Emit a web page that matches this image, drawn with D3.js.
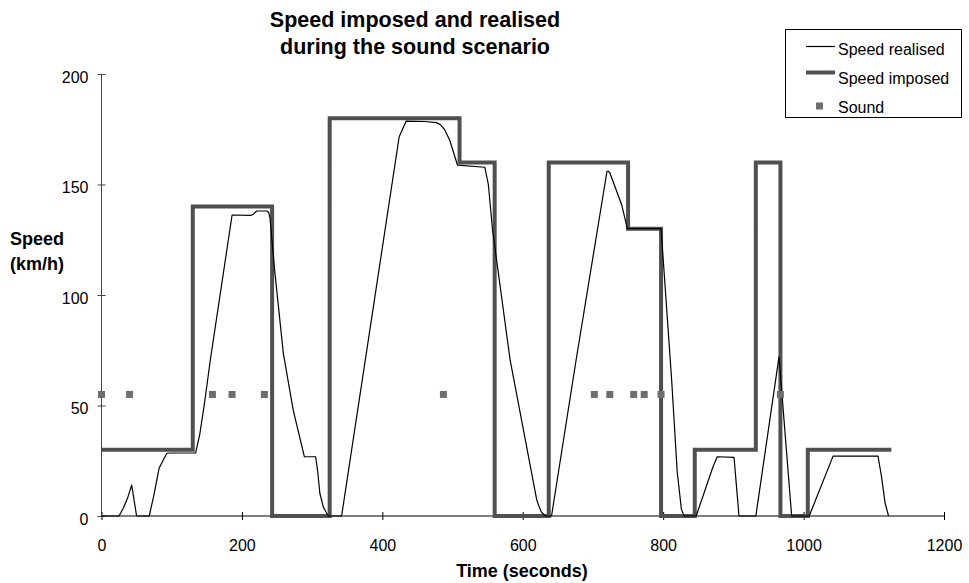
<!DOCTYPE html>
<html>
<head>
<meta charset="utf-8">
<script src="https://cdn.jsdelivr.net/npm/d3@7"></script>
<style>
  html, body { margin: 0; padding: 0; background: #fff; }
  svg { display: block; font-family: "Liberation Sans", Arial, sans-serif; }
</style>
</head>
<body>
<svg id="chart" width="969" height="583"></svg>
<script>
// ---- data ----
const realisedTime  = [0, 25, 31, 37, 43, 50, 68, 75, 82, 93, 100, 134, 140, 147, 155, 186, 212, 216, 221, 235, 238, 240, 247, 259, 273, 289, 305, 308, 311, 316, 323, 342, 424, 434, 460, 477, 483, 489, 496, 507, 546, 551, 557, 582, 620, 626, 632, 641, 676, 720, 722, 724, 741, 749, 797, 812, 820, 826, 830, 847, 871, 877, 901, 904, 908, 932, 965, 983, 1008, 1042, 1106, 1111, 1116, 1121];
const realisedSpeed = [0, 0, 3.5, 8, 14, 0, 0, 10, 21.6, 28.4, 28.5, 28.5, 37, 51.7, 70.6, 136.2, 136, 136.5, 138, 138, 137.5, 134.8, 110, 73.6, 48, 26.8, 26.8, 20, 10.3, 4, 0, 0, 171.6, 178.7, 178.5, 178, 177, 174.7, 170, 158.8, 157.8, 150, 129.4, 70.6, 7.2, 2, 0, 0, 70.6, 156, 156, 155.3, 140.7, 130, 130, 62, 20, 3, 0, 0, 22.3, 26.8, 26.5, 15, 0, 0, 72, 0, 0, 27.1, 27.1, 17.8, 6, 0];

const imposedTime  = [0, 130, 243, 325, 510, 560, 637, 750, 797, 845, 932, 967, 1006, 1125];
const imposedSpeed = [30, 140, 0, 180, 160, 0, 160, 130, 0, 30, 160, 0, 30, 30];

const soundTime  = [0, 40, 158, 186, 232, 487, 702, 724, 758, 773, 797, 967];
const soundSpeed = [55, 55, 55, 55, 55, 55, 55, 55, 55, 55, 55, 55];

const xTicks = [0, 200, 400, 600, 800, 1000, 1200];
const yTicks = [0, 50, 100, 150, 200];

const titleLines = ["Speed imposed and realised", "during the sound scenario"];
const xLabel = "Time (seconds)";
const yLabelLines = ["Speed", "(km/h)"];
const legendLabels = ["Speed realised", "Speed imposed", "Sound"];

// ---- chart ----
const svg = d3.select("#chart");
const x = d3.scaleLinear().domain([0, 1200]).range([101.5, 944]);
const y = d3.scaleLinear().domain([0, 200]).range([516, 74]);

const imposedColor = "#505050";
const soundColor = "#6e6e6e";

// title
svg.append("text")
  .attr("x", 415).attr("y", 27)
  .attr("text-anchor", "middle")
  .attr("font-size", 21.5).attr("font-weight", "bold")
  .text(titleLines[0]);
svg.append("text")
  .attr("x", 415).attr("y", 54)
  .attr("text-anchor", "middle")
  .attr("font-size", 21.5).attr("font-weight", "bold")
  .text(titleLines[1]);

// axes
const xAxis = svg.append("g")
  .attr("transform", `translate(0,${y(0)})`)
  .call(d3.axisBottom(x).tickValues(xTicks).tickSize(8).tickFormat(d3.format("d")));
xAxis.select(".domain").attr("stroke", "#000").attr("d", `M${x(0)},0H${x(1200)}`);
xAxis.selectAll(".tick line").attr("y1", -4).attr("y2", 4).attr("stroke", "#000");
xAxis.selectAll(".tick text")
  .attr("y", 0).attr("dy", null)
  .attr("transform", "translate(0,35)")
  .attr("font-size", 16).attr("fill", "#000")
  .attr("font-family", "Liberation Sans, Arial, sans-serif");

const yAxis = svg.append("g")
  .attr("transform", `translate(${x(0)},0)`)
  .call(d3.axisLeft(y).tickValues(yTicks).tickSize(8).tickFormat(d3.format("d")));
yAxis.select(".domain").attr("stroke", "#444").attr("d", `M0,${y(0)}V${y(200)}`);
yAxis.selectAll(".tick line").attr("x1", -4).attr("x2", 4).attr("stroke", "#444");
yAxis.selectAll(".tick text")
  .attr("x", -13).attr("dy", "0.5em")
  .attr("font-size", 16).attr("fill", "#000")
  .attr("font-family", "Liberation Sans, Arial, sans-serif");

// axis labels
svg.append("text")
  .attr("x", 522).attr("y", 577)
  .attr("text-anchor", "middle")
  .attr("font-size", 18).attr("font-weight", "bold")
  .text(xLabel);
svg.append("text")
  .attr("x", 10).attr("y", 245)
  .attr("font-size", 18).attr("font-weight", "bold")
  .text(yLabelLines[0]);
svg.append("text")
  .attr("x", 10).attr("y", 270)
  .attr("font-size", 18).attr("font-weight", "bold")
  .text(yLabelLines[1]);

// imposed (step)
const imposedData = imposedTime.map((t, i) => [t, imposedSpeed[i]]);
svg.append("path")
  .datum(imposedData)
  .attr("fill", "none")
  .attr("stroke", imposedColor)
  .attr("stroke-width", 4)
  .attr("stroke-linejoin", "miter")
  .attr("d", d3.line().x(d => x(d[0])).y(d => y(d[1])).curve(d3.curveStepAfter));

// realised
const realisedData = realisedTime.map((t, i) => [t, realisedSpeed[i]]);
svg.append("path")
  .datum(realisedData)
  .attr("fill", "none")
  .attr("stroke", "#000")
  .attr("stroke-width", 1.2)
  .attr("stroke-linejoin", "round")
  .attr("d", d3.line().x(d => x(d[0])).y(d => y(d[1])));

// sound
const soundData = soundTime.map((t, i) => [t, soundSpeed[i]]);
svg.append("g").selectAll("rect")
  .data(soundData)
  .join("rect")
  .attr("x", d => x(d[0]) - 3.5)
  .attr("y", d => y(d[1]) - 3.5)
  .attr("width", 7).attr("height", 7)
  .attr("fill", soundColor);

// legend
const lg = svg.append("g");
lg.append("rect")
  .attr("x", 785.5).attr("y", 29.5).attr("width", 176).attr("height", 88)
  .attr("fill", "#fff").attr("stroke", "#000").attr("stroke-width", 1);
lg.append("line").attr("x1", 806).attr("x2", 835).attr("y1", 46.5).attr("y2", 46.5)
  .attr("stroke", "#000").attr("stroke-width", 1.2);
lg.append("line").attr("x1", 806).attr("x2", 835).attr("y1", 72.5).attr("y2", 72.5)
  .attr("stroke", imposedColor).attr("stroke-width", 4);
lg.append("rect").attr("x", 816).attr("y", 102.5).attr("width", 7).attr("height", 7)
  .attr("fill", soundColor);
const legY = [54.5, 83.5, 113];
legendLabels.forEach((s, i) => {
  lg.append("text").attr("x", 838).attr("y", legY[i])
    .attr("font-size", 16).text(s);
});
</script>
</body>
</html>
